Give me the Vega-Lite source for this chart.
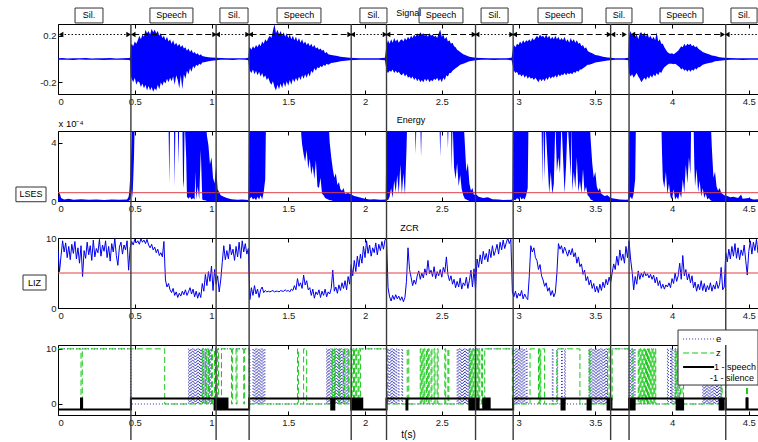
{
"$schema":"https://vega.github.io/schema/vega-lite/v6.json",
"background":"white",
"padding":{"left":14,"top":7,"right":0,"bottom":0},
"spacing":37,
"bounds":"flush",
"config":{
 "font":"Liberation Sans",
 "view":{"stroke":"#000","strokeWidth":1},
 "axis":{"grid":false,"domain":false,"ticks":true,"tickColor":"#000","tickSize":-4,"tickWidth":1,"labelFontSize":9.5,"labelColor":"#1a1a1a","labelFont":"Liberation Sans","labelPadding":6,"titleFont":"Liberation Sans","titleFontSize":9.5,"titleFontWeight":"normal","titleColor":"#000"}
},
"datasets":{
"bounds":[{"t":0.475},{"t":1.03},{"t":1.245},{"t":1.91},{"t":2.14},{"t":2.72},{"t":2.965},{"t":3.6},{"t":3.72},{"t":4.35}],
"seg":[
{"lab":"Sil.","kind":"Sil","a":0.02,"b":0.46,"c":0.202,"bx0":0.111,"bx1":0.293},
{"lab":"Speech","kind":"Speech","a":0.49,"b":1.02,"c":0.739,"bx0":0.599,"bx1":0.879},
{"lab":"Sil.","kind":"Sil","a":1.04,"b":1.235,"c":1.147,"bx0":1.055,"bx1":1.238},
{"lab":"Speech","kind":"Speech","a":1.255,"b":1.9,"c":1.57,"bx0":1.427,"bx1":1.713},
{"lab":"Sil.","kind":"Sil","a":1.92,"b":2.13,"c":2.055,"bx0":1.967,"bx1":2.143},
{"lab":"Speech","kind":"Speech","a":2.15,"b":2.71,"c":2.495,"bx0":2.352,"bx1":2.638},
{"lab":"Sil.","kind":"Sil","a":2.73,"b":2.955,"c":2.844,"bx0":2.756,"bx1":2.932},
{"lab":"Speech","kind":"Speech","a":2.975,"b":3.59,"c":3.27,"bx0":3.127,"bx1":3.414},
{"lab":"Sil.","kind":"Sil","a":3.615,"b":3.69,"c":3.655,"bx0":3.57,"bx1":3.739},
{"lab":"Speech","kind":"Speech","a":3.745,"b":4.33,"c":4.062,"bx0":3.922,"bx1":4.202},
{"lab":"Sil.","kind":"Sil","a":4.36,"b":4.62,"c":4.469,"bx0":4.384,"bx1":4.554}],
"sig":[
{"t":0,"h":0.006,"l":-0.006},{"t":0.03,"h":0.008,"l":-0.007},{"t":0.06,"h":0.005,"l":-0.006},{"t":0.1,"h":0.007,"l":-0.008},{"t":0.14,"h":0.006,"l":-0.005},{"t":0.18,"h":0.008,"l":-0.007},{"t":0.22,"h":0.005,"l":-0.006},{"t":0.26,"h":0.007,"l":-0.006},{"t":0.3,"h":0.006,"l":-0.008},{"t":0.34,"h":0.008,"l":-0.006},{"t":0.38,"h":0.005,"l":-0.007},{"t":0.42,"h":0.007,"l":-0.006},{"t":0.46,"h":0.008,"l":-0.008},{"t":0.47,"h":0.01,"l":-0.012},
{"t":0.475,"h":0.12,"l":-0.15},{"t":0.48,"h":0.13,"l":-0.17},{"t":0.49,"h":0.11,"l":-0.2},{"t":0.5,"h":0.15,"l":-0.16},{"t":0.51,"h":0.13,"l":-0.22},{"t":0.52,"h":0.16,"l":-0.19},{"t":0.53,"h":0.2,"l":-0.2},{"t":0.54,"h":0.17,"l":-0.24},{"t":0.55,"h":0.21,"l":-0.21},{"t":0.56,"h":0.19,"l":-0.25},{"t":0.57,"h":0.25,"l":-0.22},{"t":0.58,"h":0.22,"l":-0.27},{"t":0.59,"h":0.24,"l":-0.23},{"t":0.6,"h":0.21,"l":-0.27},{"t":0.61,"h":0.26,"l":-0.24},{"t":0.62,"h":0.23,"l":-0.28},{"t":0.63,"h":0.25,"l":-0.25},{"t":0.64,"h":0.22,"l":-0.27},{"t":0.65,"h":0.24,"l":-0.22},{"t":0.66,"h":0.2,"l":-0.26},{"t":0.67,"h":0.22,"l":-0.2},{"t":0.68,"h":0.18,"l":-0.23},{"t":0.69,"h":0.2,"l":-0.19},{"t":0.7,"h":0.16,"l":-0.21},{"t":0.71,"h":0.19,"l":-0.17},{"t":0.72,"h":0.15,"l":-0.2},{"t":0.73,"h":0.17,"l":-0.16},{"t":0.74,"h":0.13,"l":-0.19},{"t":0.75,"h":0.16,"l":-0.15},{"t":0.76,"h":0.12,"l":-0.22},{"t":0.77,"h":0.14,"l":-0.14},{"t":0.78,"h":0.11,"l":-0.18},{"t":0.79,"h":0.13,"l":-0.25},{"t":0.8,"h":0.1,"l":-0.14},{"t":0.81,"h":0.12,"l":-0.26},{"t":0.82,"h":0.09,"l":-0.13},{"t":0.83,"h":0.1,"l":-0.17},{"t":0.84,"h":0.07,"l":-0.1},{"t":0.85,"h":0.09,"l":-0.13},{"t":0.86,"h":0.06,"l":-0.08},{"t":0.87,"h":0.08,"l":-0.11},{"t":0.88,"h":0.05,"l":-0.06},{"t":0.89,"h":0.06,"l":-0.08},{"t":0.9,"h":0.04,"l":-0.05},{"t":0.91,"h":0.05,"l":-0.06},{"t":0.92,"h":0.03,"l":-0.04},{"t":0.93,"h":0.04,"l":-0.05},{"t":0.94,"h":0.025,"l":-0.03},{"t":0.96,"h":0.02,"l":-0.025},{"t":0.98,"h":0.015,"l":-0.02},{"t":1,"h":0.012,"l":-0.015},{"t":1.03,"h":0.01,"l":-0.01},
{"t":1.06,"h":0.008,"l":-0.007},{"t":1.1,"h":0.006,"l":-0.006},{"t":1.14,"h":0.007,"l":-0.008},{"t":1.18,"h":0.006,"l":-0.005},{"t":1.22,"h":0.007,"l":-0.007},{"t":1.24,"h":0.01,"l":-0.01},
{"t":1.245,"h":0.09,"l":-0.08},{"t":1.25,"h":0.1,"l":-0.1},{"t":1.26,"h":0.08,"l":-0.12},{"t":1.27,"h":0.11,"l":-0.09},{"t":1.28,"h":0.09,"l":-0.13},{"t":1.29,"h":0.12,"l":-0.1},{"t":1.3,"h":0.1,"l":-0.14},{"t":1.31,"h":0.13,"l":-0.11},{"t":1.32,"h":0.11,"l":-0.15},{"t":1.33,"h":0.15,"l":-0.12},{"t":1.34,"h":0.13,"l":-0.16},{"t":1.35,"h":0.17,"l":-0.14},{"t":1.36,"h":0.15,"l":-0.18},{"t":1.37,"h":0.18,"l":-0.16},{"t":1.38,"h":0.2,"l":-0.2},{"t":1.39,"h":0.18,"l":-0.22},{"t":1.4,"h":0.24,"l":-0.19},{"t":1.41,"h":0.3,"l":-0.24},{"t":1.42,"h":0.22,"l":-0.27},{"t":1.43,"h":0.25,"l":-0.22},{"t":1.44,"h":0.21,"l":-0.26},{"t":1.45,"h":0.24,"l":-0.21},{"t":1.46,"h":0.2,"l":-0.25},{"t":1.47,"h":0.23,"l":-0.2},{"t":1.48,"h":0.19,"l":-0.24},{"t":1.49,"h":0.22,"l":-0.19},{"t":1.5,"h":0.18,"l":-0.23},{"t":1.51,"h":0.21,"l":-0.18},{"t":1.52,"h":0.17,"l":-0.22},{"t":1.53,"h":0.2,"l":-0.17},{"t":1.54,"h":0.16,"l":-0.2},{"t":1.55,"h":0.19,"l":-0.16},{"t":1.56,"h":0.15,"l":-0.19},{"t":1.57,"h":0.18,"l":-0.15},{"t":1.58,"h":0.14,"l":-0.18},{"t":1.59,"h":0.17,"l":-0.14},{"t":1.6,"h":0.13,"l":-0.17},{"t":1.61,"h":0.15,"l":-0.13},{"t":1.62,"h":0.12,"l":-0.16},{"t":1.63,"h":0.14,"l":-0.12},{"t":1.64,"h":0.11,"l":-0.15},{"t":1.65,"h":0.13,"l":-0.1},{"t":1.66,"h":0.1,"l":-0.12},{"t":1.67,"h":0.12,"l":-0.08},{"t":1.68,"h":0.09,"l":-0.1},{"t":1.69,"h":0.1,"l":-0.07},{"t":1.7,"h":0.08,"l":-0.08},{"t":1.71,"h":0.09,"l":-0.06},{"t":1.72,"h":0.07,"l":-0.07},{"t":1.73,"h":0.08,"l":-0.05},{"t":1.74,"h":0.05,"l":-0.06},{"t":1.75,"h":0.06,"l":-0.04},{"t":1.76,"h":0.04,"l":-0.05},{"t":1.78,"h":0.035,"l":-0.035},{"t":1.8,"h":0.03,"l":-0.03},{"t":1.82,"h":0.025,"l":-0.025},{"t":1.84,"h":0.02,"l":-0.02},{"t":1.87,"h":0.015,"l":-0.015},{"t":1.9,"h":0.01,"l":-0.01},
{"t":1.93,"h":0.008,"l":-0.008},{"t":1.97,"h":0.006,"l":-0.007},{"t":2.01,"h":0.007,"l":-0.006},{"t":2.05,"h":0.006,"l":-0.007},{"t":2.09,"h":0.007,"l":-0.006},{"t":2.13,"h":0.01,"l":-0.01},
{"t":2.14,"h":0.12,"l":-0.1},{"t":2.15,"h":0.16,"l":-0.12},{"t":2.16,"h":0.13,"l":-0.1},{"t":2.17,"h":0.17,"l":-0.11},{"t":2.18,"h":0.14,"l":-0.09},{"t":2.19,"h":0.18,"l":-0.12},{"t":2.2,"h":0.15,"l":-0.1},{"t":2.21,"h":0.17,"l":-0.12},{"t":2.22,"h":0.14,"l":-0.11},{"t":2.23,"h":0.16,"l":-0.13},{"t":2.24,"h":0.17,"l":-0.14},{"t":2.25,"h":0.15,"l":-0.12},{"t":2.26,"h":0.18,"l":-0.15},{"t":2.27,"h":0.16,"l":-0.13},{"t":2.28,"h":0.19,"l":-0.16},{"t":2.29,"h":0.17,"l":-0.15},{"t":2.3,"h":0.2,"l":-0.17},{"t":2.31,"h":0.18,"l":-0.15},{"t":2.32,"h":0.21,"l":-0.18},{"t":2.33,"h":0.19,"l":-0.16},{"t":2.34,"h":0.22,"l":-0.19},{"t":2.35,"h":0.2,"l":-0.17},{"t":2.36,"h":0.23,"l":-0.2},{"t":2.37,"h":0.21,"l":-0.18},{"t":2.38,"h":0.22,"l":-0.2},{"t":2.39,"h":0.2,"l":-0.17},{"t":2.4,"h":0.21,"l":-0.19},{"t":2.41,"h":0.19,"l":-0.17},{"t":2.42,"h":0.22,"l":-0.2},{"t":2.43,"h":0.2,"l":-0.18},{"t":2.44,"h":0.21,"l":-0.19},{"t":2.45,"h":0.19,"l":-0.17},{"t":2.46,"h":0.2,"l":-0.18},{"t":2.47,"h":0.18,"l":-0.16},{"t":2.48,"h":0.22,"l":-0.19},{"t":2.49,"h":0.25,"l":-0.17},{"t":2.5,"h":0.19,"l":-0.2},{"t":2.51,"h":0.21,"l":-0.16},{"t":2.52,"h":0.17,"l":-0.18},{"t":2.53,"h":0.19,"l":-0.14},{"t":2.54,"h":0.15,"l":-0.15},{"t":2.55,"h":0.16,"l":-0.12},{"t":2.56,"h":0.13,"l":-0.12},{"t":2.57,"h":0.14,"l":-0.1},{"t":2.58,"h":0.11,"l":-0.09},{"t":2.59,"h":0.1,"l":-0.08},{"t":2.6,"h":0.08,"l":-0.07},{"t":2.61,"h":0.07,"l":-0.06},{"t":2.62,"h":0.06,"l":-0.05},{"t":2.64,"h":0.04,"l":-0.04},{"t":2.66,"h":0.03,"l":-0.03},{"t":2.68,"h":0.02,"l":-0.02},{"t":2.7,"h":0.015,"l":-0.015},{"t":2.72,"h":0.01,"l":-0.01},
{"t":2.76,"h":0.008,"l":-0.007},{"t":2.8,"h":0.006,"l":-0.006},{"t":2.84,"h":0.007,"l":-0.008},{"t":2.88,"h":0.006,"l":-0.006},{"t":2.92,"h":0.007,"l":-0.007},{"t":2.955,"h":0.01,"l":-0.01},
{"t":2.965,"h":0.1,"l":-0.07},{"t":2.97,"h":0.12,"l":-0.1},{"t":2.98,"h":0.1,"l":-0.12},{"t":2.99,"h":0.13,"l":-0.11},{"t":3,"h":0.12,"l":-0.14},{"t":3.01,"h":0.15,"l":-0.13},{"t":3.02,"h":0.13,"l":-0.15},{"t":3.03,"h":0.16,"l":-0.13},{"t":3.04,"h":0.14,"l":-0.16},{"t":3.05,"h":0.16,"l":-0.14},{"t":3.06,"h":0.15,"l":-0.17},{"t":3.07,"h":0.17,"l":-0.15},{"t":3.08,"h":0.15,"l":-0.17},{"t":3.09,"h":0.18,"l":-0.16},{"t":3.1,"h":0.16,"l":-0.18},{"t":3.11,"h":0.18,"l":-0.16},{"t":3.12,"h":0.2,"l":-0.18},{"t":3.13,"h":0.18,"l":-0.2},{"t":3.14,"h":0.21,"l":-0.17},{"t":3.15,"h":0.19,"l":-0.19},{"t":3.16,"h":0.2,"l":-0.17},{"t":3.17,"h":0.18,"l":-0.19},{"t":3.18,"h":0.21,"l":-0.16},{"t":3.19,"h":0.18,"l":-0.18},{"t":3.2,"h":0.2,"l":-0.15},{"t":3.21,"h":0.17,"l":-0.17},{"t":3.22,"h":0.19,"l":-0.15},{"t":3.23,"h":0.17,"l":-0.16},{"t":3.24,"h":0.2,"l":-0.14},{"t":3.25,"h":0.17,"l":-0.16},{"t":3.26,"h":0.19,"l":-0.13},{"t":3.27,"h":0.16,"l":-0.15},{"t":3.28,"h":0.18,"l":-0.13},{"t":3.29,"h":0.16,"l":-0.14},{"t":3.3,"h":0.19,"l":-0.12},{"t":3.31,"h":0.15,"l":-0.14},{"t":3.32,"h":0.17,"l":-0.12},{"t":3.33,"h":0.14,"l":-0.13},{"t":3.34,"h":0.18,"l":-0.12},{"t":3.35,"h":0.15,"l":-0.13},{"t":3.36,"h":0.17,"l":-0.11},{"t":3.37,"h":0.14,"l":-0.12},{"t":3.38,"h":0.16,"l":-0.1},{"t":3.39,"h":0.13,"l":-0.11},{"t":3.4,"h":0.14,"l":-0.09},{"t":3.41,"h":0.11,"l":-0.09},{"t":3.42,"h":0.12,"l":-0.08},{"t":3.43,"h":0.09,"l":-0.07},{"t":3.44,"h":0.1,"l":-0.06},{"t":3.45,"h":0.07,"l":-0.05},{"t":3.46,"h":0.06,"l":-0.05},{"t":3.48,"h":0.05,"l":-0.04},{"t":3.5,"h":0.035,"l":-0.03},{"t":3.52,"h":0.03,"l":-0.025},{"t":3.55,"h":0.02,"l":-0.02},{"t":3.58,"h":0.012,"l":-0.012},{"t":3.6,"h":0.01,"l":-0.01},
{"t":3.63,"h":0.007,"l":-0.007},{"t":3.66,"h":0.006,"l":-0.006},{"t":3.69,"h":0.007,"l":-0.006},{"t":3.715,"h":0.01,"l":-0.01},
{"t":3.72,"h":0.2,"l":-0.12},{"t":3.73,"h":0.24,"l":-0.15},{"t":3.74,"h":0.2,"l":-0.13},{"t":3.75,"h":0.23,"l":-0.16},{"t":3.76,"h":0.19,"l":-0.14},{"t":3.77,"h":0.21,"l":-0.12},{"t":3.78,"h":0.17,"l":-0.15},{"t":3.79,"h":0.22,"l":-0.17},{"t":3.8,"h":0.23,"l":-0.2},{"t":3.81,"h":0.2,"l":-0.18},{"t":3.82,"h":0.23,"l":-0.16},{"t":3.83,"h":0.19,"l":-0.18},{"t":3.84,"h":0.22,"l":-0.15},{"t":3.85,"h":0.18,"l":-0.17},{"t":3.86,"h":0.2,"l":-0.14},{"t":3.87,"h":0.17,"l":-0.16},{"t":3.88,"h":0.19,"l":-0.13},{"t":3.89,"h":0.16,"l":-0.15},{"t":3.9,"h":0.23,"l":-0.12},{"t":3.91,"h":0.15,"l":-0.14},{"t":3.92,"h":0.17,"l":-0.11},{"t":3.93,"h":0.13,"l":-0.12},{"t":3.94,"h":0.13,"l":-0.09},{"t":3.95,"h":0.1,"l":-0.07},{"t":3.96,"h":0.08,"l":-0.06},{"t":3.97,"h":0.06,"l":-0.05},{"t":3.98,"h":0.05,"l":-0.04},{"t":3.99,"h":0.045,"l":-0.04},{"t":4,"h":0.05,"l":-0.04},{"t":4.01,"h":0.04,"l":-0.045},{"t":4.02,"h":0.05,"l":-0.04},{"t":4.03,"h":0.06,"l":-0.05},{"t":4.04,"h":0.07,"l":-0.06},{"t":4.05,"h":0.09,"l":-0.07},{"t":4.06,"h":0.11,"l":-0.09},{"t":4.07,"h":0.1,"l":-0.08},{"t":4.08,"h":0.13,"l":-0.1},{"t":4.09,"h":0.11,"l":-0.09},{"t":4.1,"h":0.13,"l":-0.11},{"t":4.11,"h":0.12,"l":-0.09},{"t":4.12,"h":0.13,"l":-0.11},{"t":4.13,"h":0.11,"l":-0.09},{"t":4.14,"h":0.12,"l":-0.1},{"t":4.15,"h":0.1,"l":-0.08},{"t":4.16,"h":0.11,"l":-0.09},{"t":4.17,"h":0.09,"l":-0.07},{"t":4.18,"h":0.08,"l":-0.07},{"t":4.19,"h":0.07,"l":-0.06},{"t":4.2,"h":0.06,"l":-0.05},{"t":4.22,"h":0.05,"l":-0.04},{"t":4.24,"h":0.04,"l":-0.035},{"t":4.26,"h":0.03,"l":-0.03},{"t":4.28,"h":0.025,"l":-0.02},{"t":4.31,"h":0.015,"l":-0.015},{"t":4.34,"h":0.01,"l":-0.01},
{"t":4.38,"h":0.008,"l":-0.007},{"t":4.42,"h":0.006,"l":-0.006},{"t":4.46,"h":0.007,"l":-0.008},{"t":4.5,"h":0.006,"l":-0.006},{"t":4.54,"h":0.007,"l":-0.006},{"t":4.58,"h":0.006,"l":-0.006}],
"energy":[
{"t":0,"l":0,"h":0.15},{"t":0.01,"l":0,"h":0.6},{"t":0.02,"l":0,"h":0.2},{"t":0.04,"l":0,"h":0.1},{"t":0.07,"l":0,"h":0.15},{"t":0.1,"l":0,"h":0.08},{"t":0.15,"l":0,"h":0.12},{"t":0.2,"l":0,"h":0.08},{"t":0.25,"l":0,"h":0.1},{"t":0.3,"l":0,"h":0.07},{"t":0.35,"l":0,"h":0.1},{"t":0.4,"l":0,"h":0.08},{"t":0.45,"l":0,"h":0.1},{"t":0.46,"l":0,"h":0.3},{"t":0.465,"l":0.05,"h":0.7},{"t":0.47,"l":0.1,"h":1.6},{"t":0.475,"l":0.3,"h":2.8},{"t":0.48,"l":0.8,"h":4.2},{"t":0.485,"l":0.2,"h":6},{"t":0.49,"l":1.5,"h":6},{"t":0.495,"l":3,"h":6},{"t":0.5,"l":5.5,"h":6},{"t":0.72,"l":5.5,"h":6},{"t":0.725,"l":1.2,"h":6},{"t":0.73,"l":5.5,"h":6},{"t":0.755,"l":5.5,"h":6},{"t":0.76,"l":1,"h":6},{"t":0.765,"l":5.5,"h":6},{"t":0.78,"l":5.5,"h":6},{"t":0.785,"l":2.5,"h":6},{"t":0.79,"l":5.5,"h":6},{"t":0.81,"l":5.5,"h":6},{"t":0.815,"l":0.9,"h":6},{"t":0.82,"l":1.4,"h":6},{"t":0.825,"l":5.5,"h":6},{"t":0.835,"l":3,"h":6},{"t":0.84,"l":0.3,"h":6},{"t":0.85,"l":0.15,"h":6},{"t":0.86,"l":0.3,"h":6},{"t":0.87,"l":0.1,"h":6},{"t":0.88,"l":0.2,"h":6},{"t":0.89,"l":0.1,"h":6},{"t":0.895,"l":2,"h":6},{"t":0.9,"l":0.1,"h":6},{"t":0.91,"l":1,"h":6},{"t":0.92,"l":0.1,"h":6},{"t":0.93,"l":3.5,"h":6},{"t":0.94,"l":0.1,"h":6},{"t":0.95,"l":0.05,"h":6},{"t":0.96,"l":0.05,"h":6},{"t":0.97,"l":0,"h":4.5},{"t":0.98,"l":0,"h":3.8},{"t":0.99,"l":0,"h":2.5},{"t":1,"l":0,"h":3},{"t":1.01,"l":0,"h":1.6},{"t":1.02,"l":0,"h":1.2},{"t":1.03,"l":0,"h":2.4},{"t":1.04,"l":0,"h":0.8},{"t":1.05,"l":0,"h":0.6},{"t":1.06,"l":0,"h":0.4},{"t":1.08,"l":0,"h":0.3},{"t":1.1,"l":0,"h":0.2},{"t":1.13,"l":0,"h":0.12},{"t":1.17,"l":0,"h":0.08},{"t":1.2,"l":0,"h":0.1},{"t":1.24,"l":0,"h":0.07},
{"t":1.245,"l":0.1,"h":6},{"t":1.26,"l":0.3,"h":6},{"t":1.27,"l":0.1,"h":6},{"t":1.28,"l":0.2,"h":6},{"t":1.29,"l":0.05,"h":6},{"t":1.3,"l":0.3,"h":6},{"t":1.31,"l":0.1,"h":6},{"t":1.32,"l":0.4,"h":6},{"t":1.33,"l":0.1,"h":6},{"t":1.34,"l":0.6,"h":6},{"t":1.35,"l":1.5,"h":6},{"t":1.355,"l":5.5,"h":6},{"t":1.58,"l":5.5,"h":6},{"t":1.585,"l":4.5,"h":6},{"t":1.59,"l":3.9,"h":6},{"t":1.6,"l":3.2,"h":6},{"t":1.61,"l":2.7,"h":6},{"t":1.62,"l":3.5,"h":6},{"t":1.63,"l":2.2,"h":6},{"t":1.64,"l":2.9,"h":6},{"t":1.65,"l":1.8,"h":6},{"t":1.66,"l":2.4,"h":6},{"t":1.67,"l":1.5,"h":6},{"t":1.68,"l":2.8,"h":6},{"t":1.69,"l":1,"h":6},{"t":1.7,"l":0.9,"h":6},{"t":1.71,"l":1.6,"h":6},{"t":1.72,"l":0.5,"h":6},{"t":1.73,"l":0.4,"h":6},{"t":1.74,"l":0.2,"h":6},{"t":1.75,"l":0.15,"h":6},{"t":1.76,"l":0.1,"h":6},{"t":1.77,"l":0.05,"h":4},{"t":1.78,"l":0.05,"h":3},{"t":1.79,"l":0,"h":2.2},{"t":1.8,"l":0,"h":1.6},{"t":1.81,"l":0,"h":1.9},{"t":1.82,"l":0,"h":1.1},{"t":1.83,"l":0,"h":1.3},{"t":1.84,"l":0,"h":0.8},{"t":1.85,"l":0,"h":0.7},{"t":1.86,"l":0,"h":0.9},{"t":1.87,"l":0,"h":0.5},{"t":1.89,"l":0,"h":0.55},{"t":1.91,"l":0,"h":0.45},{"t":1.93,"l":0,"h":0.35},{"t":1.95,"l":0,"h":0.3},{"t":1.98,"l":0,"h":0.2},{"t":2,"l":0,"h":0.15},{"t":2.03,"l":0,"h":0.1},{"t":2.06,"l":0,"h":0.12},{"t":2.1,"l":0,"h":0.08},{"t":2.135,"l":0,"h":0.1},
{"t":2.14,"l":0.1,"h":6},{"t":2.15,"l":0.05,"h":6},{"t":2.16,"l":0.3,"h":6},{"t":2.17,"l":0.9,"h":6},{"t":2.18,"l":0.2,"h":6},{"t":2.19,"l":1.4,"h":6},{"t":2.2,"l":0.6,"h":6},{"t":2.21,"l":1.8,"h":6},{"t":2.22,"l":0.5,"h":6},{"t":2.23,"l":2.5,"h":6},{"t":2.24,"l":0.45,"h":6},{"t":2.25,"l":1.9,"h":6},{"t":2.26,"l":0.4,"h":6},{"t":2.27,"l":3.5,"h":6},{"t":2.275,"l":5.5,"h":6},{"t":2.325,"l":5.5,"h":6},{"t":2.33,"l":3.2,"h":6},{"t":2.335,"l":5.5,"h":6},{"t":2.36,"l":5.5,"h":6},{"t":2.365,"l":3,"h":6},{"t":2.37,"l":5.5,"h":6},{"t":2.485,"l":5.5,"h":6},{"t":2.49,"l":3,"h":6},{"t":2.495,"l":5.5,"h":6},{"t":2.535,"l":5.5,"h":6},{"t":2.54,"l":3.6,"h":6},{"t":2.545,"l":5.5,"h":6},{"t":2.56,"l":5.5,"h":6},{"t":2.565,"l":2.1,"h":6},{"t":2.57,"l":5.5,"h":6},{"t":2.575,"l":4,"h":6},{"t":2.58,"l":2.3,"h":6},{"t":2.59,"l":1.5,"h":6},{"t":2.6,"l":2.6,"h":6},{"t":2.61,"l":1,"h":6},{"t":2.62,"l":1.8,"h":6},{"t":2.63,"l":0.8,"h":6},{"t":2.64,"l":0.4,"h":6},{"t":2.65,"l":0.15,"h":4},{"t":2.66,"l":0.1,"h":2},{"t":2.67,"l":0.05,"h":2.6},{"t":2.68,"l":0,"h":1.2},{"t":2.69,"l":0,"h":0.7},{"t":2.7,"l":0,"h":0.9},{"t":2.71,"l":0,"h":0.4},{"t":2.72,"l":0,"h":0.5},{"t":2.74,"l":0,"h":0.3},{"t":2.77,"l":0,"h":0.2},{"t":2.8,"l":0,"h":0.25},{"t":2.83,"l":0,"h":0.12},{"t":2.87,"l":0,"h":0.1},{"t":2.9,"l":0,"h":0.07},{"t":2.95,"l":0,"h":0.08},{"t":2.96,"l":0,"h":0.1},
{"t":2.965,"l":0.1,"h":6},{"t":2.98,"l":0.05,"h":6},{"t":2.99,"l":0.2,"h":6},{"t":3,"l":0.1,"h":6},{"t":3.01,"l":0.3,"h":6},{"t":3.02,"l":0.1,"h":6},{"t":3.03,"l":0.2,"h":6},{"t":3.04,"l":0.1,"h":6},{"t":3.05,"l":0.4,"h":6},{"t":3.06,"l":0.9,"h":6},{"t":3.065,"l":5.5,"h":6},{"t":3.15,"l":5.5,"h":6},{"t":3.155,"l":1.1,"h":6},{"t":3.16,"l":5.5,"h":6},{"t":3.17,"l":1.5,"h":6},{"t":3.175,"l":5.5,"h":6},{"t":3.2,"l":0.5,"h":6},{"t":3.21,"l":2,"h":6},{"t":3.22,"l":0.45,"h":6},{"t":3.23,"l":1.2,"h":6},{"t":3.24,"l":5.5,"h":6},{"t":3.25,"l":2,"h":6},{"t":3.26,"l":3,"h":6},{"t":3.27,"l":1.9,"h":6},{"t":3.28,"l":5.5,"h":6},{"t":3.3,"l":0.5,"h":6},{"t":3.31,"l":2.5,"h":6},{"t":3.32,"l":5.5,"h":6},{"t":3.34,"l":1.6,"h":6},{"t":3.345,"l":5.5,"h":6},{"t":3.35,"l":0.7,"h":6},{"t":3.36,"l":2,"h":6},{"t":3.37,"l":0.9,"h":6},{"t":3.38,"l":3,"h":6},{"t":3.39,"l":0.6,"h":6},{"t":3.4,"l":1.4,"h":6},{"t":3.41,"l":0.5,"h":6},{"t":3.42,"l":2.2,"h":6},{"t":3.43,"l":0.6,"h":6},{"t":3.44,"l":1,"h":6},{"t":3.45,"l":0.4,"h":6},{"t":3.46,"l":0.3,"h":6},{"t":3.47,"l":0.1,"h":4.2},{"t":3.48,"l":0.05,"h":2.6},{"t":3.49,"l":0,"h":1.6},{"t":3.5,"l":0,"h":2},{"t":3.51,"l":0,"h":1},{"t":3.52,"l":0,"h":0.7},{"t":3.53,"l":0,"h":0.9},{"t":3.54,"l":0,"h":0.5},{"t":3.56,"l":0,"h":0.35},{"t":3.58,"l":0,"h":0.4},{"t":3.6,"l":0,"h":0.2},{"t":3.63,"l":0,"h":0.15},{"t":3.66,"l":0,"h":0.1},{"t":3.7,"l":0,"h":0.08},{"t":3.715,"l":0,"h":0.1},
{"t":3.72,"l":0.1,"h":6},{"t":3.73,"l":0.3,"h":6},{"t":3.74,"l":0.1,"h":6},{"t":3.75,"l":0.5,"h":6},{"t":3.76,"l":1.5,"h":6},{"t":3.765,"l":5.5,"h":6},{"t":3.93,"l":5.5,"h":6},{"t":3.935,"l":3.2,"h":6},{"t":3.94,"l":1.5,"h":6},{"t":3.95,"l":0.9,"h":6},{"t":3.96,"l":2,"h":6},{"t":3.97,"l":0.45,"h":6},{"t":3.98,"l":1.2,"h":6},{"t":3.99,"l":0.3,"h":6},{"t":4,"l":0.1,"h":6},{"t":4.01,"l":0.8,"h":6},{"t":4.02,"l":0.1,"h":6},{"t":4.03,"l":0.3,"h":6},{"t":4.04,"l":0.1,"h":6},{"t":4.05,"l":0.6,"h":6},{"t":4.06,"l":0.2,"h":6},{"t":4.07,"l":1.5,"h":6},{"t":4.08,"l":0.55,"h":6},{"t":4.09,"l":2.5,"h":6},{"t":4.1,"l":1.2,"h":6},{"t":4.11,"l":3,"h":6},{"t":4.12,"l":1.8,"h":6},{"t":4.125,"l":5.5,"h":6},{"t":4.14,"l":5.5,"h":6},{"t":4.145,"l":2.5,"h":6},{"t":4.15,"l":1,"h":6},{"t":4.16,"l":2.2,"h":6},{"t":4.17,"l":0.6,"h":6},{"t":4.18,"l":1.4,"h":6},{"t":4.19,"l":0.3,"h":6},{"t":4.2,"l":0.9,"h":6},{"t":4.21,"l":0.2,"h":6},{"t":4.22,"l":0.5,"h":6},{"t":4.23,"l":0.1,"h":6},{"t":4.24,"l":0.2,"h":6},{"t":4.25,"l":0.05,"h":6},{"t":4.26,"l":0,"h":3.5},{"t":4.27,"l":0,"h":1.6},{"t":4.28,"l":0,"h":2},{"t":4.29,"l":0,"h":1},{"t":4.3,"l":0,"h":0.7},{"t":4.31,"l":0,"h":0.9},{"t":4.32,"l":0,"h":0.57},{"t":4.34,"l":0,"h":0.4},{"t":4.36,"l":0,"h":0.35},{"t":4.38,"l":0,"h":0.25},{"t":4.4,"l":0,"h":0.3},{"t":4.43,"l":0,"h":0.2},{"t":4.45,"l":0,"h":0.45},{"t":4.46,"l":0,"h":0.15},{"t":4.5,"l":0,"h":0.2},{"t":4.53,"l":0,"h":0.1},{"t":4.57,"l":0,"h":0.12}],
"zcr":[
{"t":0,"v":8.2},{"t":0.01,"v":5.2},{"t":0.02,"v":7.5},{"t":0.03,"v":9.6},{"t":0.04,"v":8},{"t":0.05,"v":9.3},{"t":0.06,"v":7.2},{"t":0.07,"v":8.8},{"t":0.08,"v":6.9},{"t":0.09,"v":9.1},{"t":0.1,"v":7.8},{"t":0.11,"v":9.5},{"t":0.12,"v":7},{"t":0.13,"v":8.6},{"t":0.14,"v":6.4},{"t":0.15,"v":8.9},{"t":0.16,"v":4.5},{"t":0.17,"v":8.2},{"t":0.18,"v":7.1},{"t":0.19,"v":9.4},{"t":0.2,"v":7.6},{"t":0.21,"v":8.9},{"t":0.22,"v":6.8},{"t":0.23,"v":9.7},{"t":0.24,"v":7.3},{"t":0.25,"v":8.5},{"t":0.26,"v":7.9},{"t":0.27,"v":9.8},{"t":0.28,"v":7.4},{"t":0.29,"v":9},{"t":0.3,"v":8.1},{"t":0.31,"v":9.6},{"t":0.32,"v":7.2},{"t":0.33,"v":8.8},{"t":0.34,"v":6.7},{"t":0.35,"v":9.2},{"t":0.36,"v":8},{"t":0.37,"v":9.9},{"t":0.38,"v":7.5},{"t":0.39,"v":6.1},{"t":0.4,"v":8.7},{"t":0.41,"v":9.4},{"t":0.42,"v":7.7},{"t":0.43,"v":9},{"t":0.44,"v":8.3},{"t":0.45,"v":9.6},{"t":0.46,"v":5.4},{"t":0.47,"v":8.6},{"t":0.48,"v":9.5},{"t":0.49,"v":9},{"t":0.5,"v":9.8},{"t":0.51,"v":9.3},{"t":0.52,"v":9.6},{"t":0.53,"v":9.1},{"t":0.54,"v":9.9},{"t":0.55,"v":9.4},{"t":0.56,"v":9.7},{"t":0.57,"v":9.2},{"t":0.58,"v":9.8},{"t":0.59,"v":9},{"t":0.6,"v":8.6},{"t":0.61,"v":9.1},{"t":0.62,"v":8.3},{"t":0.63,"v":8.7},{"t":0.64,"v":7.9},{"t":0.65,"v":8.4},{"t":0.66,"v":7.5},{"t":0.67,"v":7.9},{"t":0.68,"v":7.3},{"t":0.69,"v":9.5},{"t":0.7,"v":4},{"t":0.71,"v":3},{"t":0.72,"v":3.5},{"t":0.73,"v":2.6},{"t":0.74,"v":2.2},{"t":0.75,"v":2.8},{"t":0.76,"v":1.8},{"t":0.77,"v":2.3},{"t":0.78,"v":1.5},{"t":0.79,"v":2.1},{"t":0.8,"v":1.7},{"t":0.81,"v":2.4},{"t":0.82,"v":1.9},{"t":0.83,"v":2.6},{"t":0.84,"v":1.8},{"t":0.85,"v":2.3},{"t":0.86,"v":2.9},{"t":0.87,"v":2},{"t":0.88,"v":2.7},{"t":0.89,"v":1.6},{"t":0.9,"v":2.4},{"t":0.91,"v":1.4},{"t":0.92,"v":2.2},{"t":0.93,"v":1.5},{"t":0.94,"v":3.5},{"t":0.95,"v":2.4},{"t":0.96,"v":4.8},{"t":0.97,"v":3.2},{"t":0.98,"v":5.2},{"t":0.99,"v":3.8},{"t":1,"v":6},{"t":1.01,"v":2.5},{"t":1.02,"v":5.5},{"t":1.03,"v":3.4},{"t":1.04,"v":4.6},{"t":1.05,"v":2.3},{"t":1.06,"v":4},{"t":1.07,"v":6.5},{"t":1.08,"v":8.9},{"t":1.09,"v":6.9},{"t":1.1,"v":8.2},{"t":1.11,"v":7},{"t":1.12,"v":9.1},{"t":1.13,"v":7.6},{"t":1.14,"v":8.4},{"t":1.15,"v":6.8},{"t":1.16,"v":8.8},{"t":1.17,"v":7.3},{"t":1.18,"v":9.4},{"t":1.19,"v":7.1},{"t":1.2,"v":9.6},{"t":1.21,"v":8},{"t":1.22,"v":9.2},{"t":1.23,"v":7.7},{"t":1.24,"v":8.5},{"t":1.25,"v":1.2},{"t":1.26,"v":2.9},{"t":1.27,"v":1.8},{"t":1.28,"v":3.2},{"t":1.29,"v":2},{"t":1.3,"v":2.7},{"t":1.31,"v":1.5},{"t":1.32,"v":2.6},{"t":1.33,"v":3},{"t":1.34,"v":2.2},{"t":1.35,"v":2.5},{"t":1.36,"v":2.3},{"t":1.37,"v":2.4},{"t":1.38,"v":2.3},{"t":1.39,"v":2.4},{"t":1.4,"v":2.5},{"t":1.41,"v":2.3},{"t":1.42,"v":2.4},{"t":1.43,"v":2.4},{"t":1.44,"v":2.3},{"t":1.45,"v":2.5},{"t":1.46,"v":2.4},{"t":1.47,"v":2.4},{"t":1.48,"v":2.6},{"t":1.49,"v":2.4},{"t":1.5,"v":2.5},{"t":1.51,"v":2.3},{"t":1.52,"v":2.7},{"t":1.53,"v":2.5},{"t":1.54,"v":3.2},{"t":1.55,"v":2.6},{"t":1.56,"v":4.2},{"t":1.57,"v":3.1},{"t":1.58,"v":3.6},{"t":1.59,"v":2.8},{"t":1.6,"v":4.7},{"t":1.61,"v":3.3},{"t":1.62,"v":3.9},{"t":1.63,"v":2.6},{"t":1.64,"v":2.9},{"t":1.65,"v":1.8},{"t":1.66,"v":2.7},{"t":1.67,"v":1.4},{"t":1.68,"v":2.3},{"t":1.69,"v":1.9},{"t":1.7,"v":2.6},{"t":1.71,"v":1.5},{"t":1.72,"v":2.4},{"t":1.73,"v":1.8},{"t":1.74,"v":2.7},{"t":1.75,"v":1.6},{"t":1.76,"v":2.3},{"t":1.77,"v":2},{"t":1.78,"v":2.8},{"t":1.79,"v":5.4},{"t":1.8,"v":2.4},{"t":1.81,"v":3},{"t":1.82,"v":2.1},{"t":1.83,"v":3.3},{"t":1.84,"v":2.5},{"t":1.85,"v":3.6},{"t":1.86,"v":2.8},{"t":1.87,"v":3.9},{"t":1.88,"v":2.6},{"t":1.89,"v":4.5},{"t":1.9,"v":3.4},{"t":1.91,"v":6.2},{"t":1.92,"v":4.6},{"t":1.93,"v":6.8},{"t":1.94,"v":5.2},{"t":1.95,"v":7.4},{"t":1.96,"v":5.9},{"t":1.97,"v":7.7},{"t":1.98,"v":6.4},{"t":1.99,"v":8.8},{"t":2,"v":7.2},{"t":2.01,"v":9.6},{"t":2.02,"v":7.8},{"t":2.03,"v":9},{"t":2.04,"v":7.4},{"t":2.05,"v":8.6},{"t":2.06,"v":7.9},{"t":2.07,"v":9.3},{"t":2.08,"v":7.6},{"t":2.09,"v":9.1},{"t":2.1,"v":8.2},{"t":2.11,"v":9.5},{"t":2.12,"v":8.4},{"t":2.13,"v":9.7},{"t":2.14,"v":10},{"t":2.15,"v":2.9},{"t":2.16,"v":1.6},{"t":2.17,"v":1},{"t":2.18,"v":1.8},{"t":2.19,"v":1.2},{"t":2.2,"v":1.9},{"t":2.21,"v":1.3},{"t":2.22,"v":1.7},{"t":2.23,"v":1.1},{"t":2.24,"v":1.6},{"t":2.25,"v":0.9},{"t":2.26,"v":1.5},{"t":2.27,"v":3.8},{"t":2.28,"v":8.6},{"t":2.29,"v":5.5},{"t":2.3,"v":4.4},{"t":2.31,"v":3.2},{"t":2.32,"v":4},{"t":2.33,"v":3.4},{"t":2.34,"v":4.6},{"t":2.35,"v":5.3},{"t":2.36,"v":4.1},{"t":2.37,"v":5},{"t":2.38,"v":4.3},{"t":2.39,"v":5.6},{"t":2.4,"v":4.7},{"t":2.41,"v":6.8},{"t":2.42,"v":4.9},{"t":2.43,"v":5.4},{"t":2.44,"v":4.5},{"t":2.45,"v":5.9},{"t":2.46,"v":4.2},{"t":2.47,"v":5.2},{"t":2.48,"v":4.6},{"t":2.49,"v":5.5},{"t":2.5,"v":4.4},{"t":2.51,"v":5.8},{"t":2.52,"v":5.1},{"t":2.53,"v":7.3},{"t":2.54,"v":4.8},{"t":2.55,"v":3.9},{"t":2.56,"v":4.6},{"t":2.57,"v":3.4},{"t":2.58,"v":4.1},{"t":2.59,"v":2.9},{"t":2.6,"v":3.8},{"t":2.61,"v":3},{"t":2.62,"v":4.3},{"t":2.63,"v":2.7},{"t":2.64,"v":3.6},{"t":2.65,"v":3.2},{"t":2.66,"v":4.4},{"t":2.67,"v":2.8},{"t":2.68,"v":3.9},{"t":2.69,"v":5.4},{"t":2.7,"v":3},{"t":2.71,"v":5.6},{"t":2.72,"v":2.6},{"t":2.73,"v":7},{"t":2.74,"v":5.8},{"t":2.75,"v":7.6},{"t":2.76,"v":6.3},{"t":2.77,"v":8.1},{"t":2.78,"v":6.9},{"t":2.79,"v":7.8},{"t":2.8,"v":6.6},{"t":2.81,"v":8.4},{"t":2.82,"v":7.2},{"t":2.83,"v":8.9},{"t":2.84,"v":7.5},{"t":2.85,"v":8.2},{"t":2.86,"v":9.1},{"t":2.87,"v":7.7},{"t":2.88,"v":9.4},{"t":2.89,"v":8.3},{"t":2.9,"v":9.7},{"t":2.91,"v":8.5},{"t":2.92,"v":9.3},{"t":2.93,"v":10},{"t":2.94,"v":9.2},{"t":2.95,"v":9.8},{"t":2.96,"v":2.3},{"t":2.97,"v":1.6},{"t":2.98,"v":2.4},{"t":2.99,"v":1.4},{"t":3,"v":2.1},{"t":3.01,"v":1.7},{"t":3.02,"v":2.5},{"t":3.03,"v":1.3},{"t":3.04,"v":2},{"t":3.05,"v":1.5},{"t":3.06,"v":1.2},{"t":3.07,"v":4.5},{"t":3.08,"v":8.9},{"t":3.09,"v":8},{"t":3.1,"v":8.6},{"t":3.11,"v":7.2},{"t":3.12,"v":6.8},{"t":3.13,"v":5.5},{"t":3.14,"v":6.2},{"t":3.15,"v":4.6},{"t":3.16,"v":4},{"t":3.17,"v":3.1},{"t":3.18,"v":3.6},{"t":3.19,"v":2.4},{"t":3.2,"v":2.9},{"t":3.21,"v":1.8},{"t":3.22,"v":2.5},{"t":3.23,"v":1.6},{"t":3.24,"v":2.2},{"t":3.25,"v":5},{"t":3.26,"v":9.2},{"t":3.27,"v":8.4},{"t":3.28,"v":8.9},{"t":3.29,"v":7.8},{"t":3.3,"v":8.7},{"t":3.31,"v":8.1},{"t":3.32,"v":7.4},{"t":3.33,"v":8.3},{"t":3.34,"v":7.6},{"t":3.35,"v":8.5},{"t":3.36,"v":7.3},{"t":3.37,"v":7.9},{"t":3.38,"v":6.4},{"t":3.39,"v":7.3},{"t":3.4,"v":5.9},{"t":3.41,"v":6.3},{"t":3.42,"v":4.8},{"t":3.43,"v":5.4},{"t":3.44,"v":3.9},{"t":3.45,"v":4.5},{"t":3.46,"v":3.3},{"t":3.47,"v":4},{"t":3.48,"v":2.8},{"t":3.49,"v":3.5},{"t":3.5,"v":2.3},{"t":3.51,"v":3.1},{"t":3.52,"v":2.2},{"t":3.53,"v":3.4},{"t":3.54,"v":2.5},{"t":3.55,"v":3.7},{"t":3.56,"v":2.9},{"t":3.57,"v":4.1},{"t":3.58,"v":3.3},{"t":3.59,"v":4.4},{"t":3.6,"v":3.6},{"t":3.61,"v":5},{"t":3.62,"v":6.3},{"t":3.63,"v":5.5},{"t":3.64,"v":7.4},{"t":3.65,"v":6.1},{"t":3.66,"v":8.3},{"t":3.67,"v":6.8},{"t":3.68,"v":7.7},{"t":3.69,"v":6.4},{"t":3.7,"v":8.8},{"t":3.71,"v":7.2},{"t":3.72,"v":9.6},{"t":3.73,"v":7},{"t":3.74,"v":5.2},{"t":3.75,"v":2.6},{"t":3.76,"v":4.5},{"t":3.77,"v":3.4},{"t":3.78,"v":5.3},{"t":3.79,"v":4.1},{"t":3.8,"v":5},{"t":3.81,"v":4.4},{"t":3.82,"v":5.2},{"t":3.83,"v":4.6},{"t":3.84,"v":4.9},{"t":3.85,"v":4.3},{"t":3.86,"v":4.8},{"t":3.87,"v":4.1},{"t":3.88,"v":4.7},{"t":3.89,"v":3.6},{"t":3.9,"v":4.4},{"t":3.91,"v":3.2},{"t":3.92,"v":3.9},{"t":3.93,"v":2.8},{"t":3.94,"v":3.4},{"t":3.95,"v":2.7},{"t":3.96,"v":3.3},{"t":3.97,"v":3},{"t":3.98,"v":3.6},{"t":3.99,"v":2.9},{"t":4,"v":4.2},{"t":4.01,"v":3.5},{"t":4.02,"v":5},{"t":4.03,"v":3.8},{"t":4.04,"v":4.6},{"t":4.05,"v":6.4},{"t":4.06,"v":4.1},{"t":4.07,"v":7.5},{"t":4.08,"v":4.6},{"t":4.09,"v":5.5},{"t":4.1,"v":4},{"t":4.11,"v":4.9},{"t":4.12,"v":3.6},{"t":4.13,"v":4.6},{"t":4.14,"v":2.9},{"t":4.15,"v":3.7},{"t":4.16,"v":2.4},{"t":4.17,"v":3.4},{"t":4.18,"v":2.6},{"t":4.19,"v":3.9},{"t":4.2,"v":2.5},{"t":4.21,"v":3.5},{"t":4.22,"v":2.3},{"t":4.23,"v":3.2},{"t":4.24,"v":2.6},{"t":4.25,"v":3.6},{"t":4.26,"v":2.4},{"t":4.27,"v":3.3},{"t":4.28,"v":2.7},{"t":4.29,"v":3.8},{"t":4.3,"v":2.8},{"t":4.31,"v":3.4},{"t":4.32,"v":5.8},{"t":4.33,"v":2.6},{"t":4.34,"v":3},{"t":4.35,"v":7.9},{"t":4.36,"v":6.6},{"t":4.37,"v":8.4},{"t":4.38,"v":7},{"t":4.39,"v":8.8},{"t":4.4,"v":7.4},{"t":4.41,"v":9.2},{"t":4.42,"v":7.1},{"t":4.43,"v":8.6},{"t":4.44,"v":6.9},{"t":4.45,"v":8.3},{"t":4.46,"v":7.5},{"t":4.47,"v":9},{"t":4.48,"v":6.8},{"t":4.49,"v":4.7},{"t":4.5,"v":8.1},{"t":4.51,"v":9.6},{"t":4.52,"v":7.7},{"t":4.53,"v":9.4},{"t":4.54,"v":8.2},{"t":4.55,"v":9.8},{"t":4.56,"v":7.9},{"t":4.57,"v":9.1}],
"e":[
{"t":0,"v":10},{"t":0.475,"v":0},{"t":0.85,"v":10},{"t":0.856,"v":0},{"t":0.862,"v":10},{"t":0.868,"v":0},{"t":0.874,"v":10},{"t":0.88,"v":0},{"t":0.886,"v":10},{"t":0.892,"v":0},{"t":0.898,"v":10},{"t":0.904,"v":0},{"t":0.91,"v":10},{"t":0.916,"v":0},{"t":0.922,"v":10},{"t":0.928,"v":0},{"t":0.934,"v":10},{"t":0.94,"v":0},{"t":0.946,"v":10},{"t":0.952,"v":0},{"t":0.958,"v":10},{"t":0.964,"v":0},{"t":0.97,"v":10},{"t":0.976,"v":0},{"t":0.982,"v":10},{"t":0.988,"v":0},{"t":0.994,"v":10},{"t":1.25,"v":0},{"t":1.27,"v":10},{"t":1.276,"v":0},{"t":1.282,"v":10},{"t":1.288,"v":0},{"t":1.294,"v":10},{"t":1.3,"v":0},{"t":1.306,"v":10},{"t":1.312,"v":0},{"t":1.318,"v":10},{"t":1.324,"v":0},{"t":1.33,"v":10},{"t":1.336,"v":0},{"t":1.342,"v":10},{"t":1.348,"v":0},{"t":1.75,"v":10},{"t":1.756,"v":0},{"t":1.762,"v":10},{"t":1.768,"v":0},{"t":1.774,"v":10},{"t":1.78,"v":0},{"t":1.786,"v":10},{"t":1.792,"v":0},{"t":1.798,"v":10},{"t":1.804,"v":0},{"t":1.81,"v":10},{"t":1.816,"v":0},{"t":1.822,"v":10},{"t":1.828,"v":0},{"t":1.834,"v":10},{"t":1.84,"v":0},{"t":1.846,"v":10},{"t":1.852,"v":0},{"t":1.858,"v":10},{"t":1.864,"v":0},{"t":1.87,"v":10},{"t":1.876,"v":0},{"t":1.882,"v":10},{"t":1.888,"v":0},{"t":1.894,"v":10},{"t":2.14,"v":0},{"t":2.15,"v":10},{"t":2.156,"v":0},{"t":2.162,"v":10},{"t":2.168,"v":0},{"t":2.174,"v":10},{"t":2.18,"v":0},{"t":2.186,"v":10},{"t":2.192,"v":0},{"t":2.2,"v":10},{"t":2.206,"v":0},{"t":2.216,"v":10},{"t":2.222,"v":0},{"t":2.24,"v":10},{"t":2.245,"v":0},{"t":2.6,"v":10},{"t":2.606,"v":0},{"t":2.612,"v":10},{"t":2.618,"v":0},{"t":2.624,"v":10},{"t":2.63,"v":0},{"t":2.636,"v":10},{"t":2.642,"v":0},{"t":2.648,"v":10},{"t":2.654,"v":0},{"t":2.66,"v":10},{"t":2.666,"v":0},{"t":2.672,"v":10},{"t":2.678,"v":0},{"t":2.684,"v":10},{"t":2.965,"v":0},{"t":2.975,"v":10},{"t":2.981,"v":0},{"t":2.987,"v":10},{"t":2.993,"v":0},{"t":2.999,"v":10},{"t":3.005,"v":0},{"t":3.011,"v":10},{"t":3.017,"v":0},{"t":3.023,"v":10},{"t":3.029,"v":0},{"t":3.035,"v":10},{"t":3.041,"v":0},{"t":3.05,"v":10},{"t":3.056,"v":0},{"t":3.22,"v":10},{"t":3.225,"v":0},{"t":3.25,"v":10},{"t":3.255,"v":0},{"t":3.28,"v":10},{"t":3.285,"v":0},{"t":3.3,"v":10},{"t":3.305,"v":0},{"t":3.46,"v":10},{"t":3.466,"v":0},{"t":3.472,"v":10},{"t":3.478,"v":0},{"t":3.484,"v":10},{"t":3.49,"v":0},{"t":3.496,"v":10},{"t":3.502,"v":0},{"t":3.508,"v":10},{"t":3.514,"v":0},{"t":3.52,"v":10},{"t":3.526,"v":0},{"t":3.532,"v":10},{"t":3.538,"v":0},{"t":3.544,"v":10},{"t":3.55,"v":0},{"t":3.556,"v":10},{"t":3.562,"v":0},{"t":3.568,"v":10},{"t":3.574,"v":0},{"t":3.58,"v":10},{"t":3.72,"v":0},{"t":3.73,"v":10},{"t":3.736,"v":0},{"t":3.742,"v":10},{"t":3.748,"v":0},{"t":3.754,"v":10},{"t":3.76,"v":0},{"t":3.97,"v":10},{"t":3.976,"v":0},{"t":3.99,"v":10},{"t":3.996,"v":0},{"t":4,"v":10},{"t":4.006,"v":0},{"t":4.02,"v":10},{"t":4.026,"v":0},{"t":4.04,"v":10},{"t":4.046,"v":0},{"t":4.2,"v":10},{"t":4.206,"v":0},{"t":4.212,"v":10},{"t":4.218,"v":0},{"t":4.224,"v":10},{"t":4.23,"v":0},{"t":4.236,"v":10},{"t":4.242,"v":0},{"t":4.248,"v":10},{"t":4.254,"v":0},{"t":4.26,"v":10},{"t":4.266,"v":0},{"t":4.272,"v":10},{"t":4.278,"v":0},{"t":4.284,"v":10},{"t":4.29,"v":0},{"t":4.296,"v":10},{"t":4.302,"v":0},{"t":4.308,"v":10},{"t":4.314,"v":0},{"t":4.32,"v":10},{"t":4.57,"v":10}],
"z":[
{"t":0,"v":10},{"t":0.15,"v":0},{"t":0.158,"v":10},{"t":0.695,"v":0},{"t":0.94,"v":10},{"t":0.946,"v":0},{"t":0.96,"v":10},{"t":0.966,"v":0},{"t":0.98,"v":10},{"t":0.986,"v":0},{"t":1,"v":10},{"t":1.006,"v":0},{"t":1.02,"v":10},{"t":1.026,"v":0},{"t":1.04,"v":10},{"t":1.046,"v":0},{"t":1.065,"v":10},{"t":1.13,"v":0},{"t":1.136,"v":10},{"t":1.16,"v":0},{"t":1.166,"v":10},{"t":1.21,"v":0},{"t":1.216,"v":10},{"t":1.245,"v":0},{"t":1.56,"v":10},{"t":1.566,"v":0},{"t":1.6,"v":10},{"t":1.62,"v":0},{"t":1.785,"v":10},{"t":1.79,"v":0},{"t":1.8,"v":10},{"t":1.806,"v":0},{"t":1.83,"v":10},{"t":1.836,"v":0},{"t":1.86,"v":10},{"t":1.866,"v":0},{"t":1.89,"v":10},{"t":1.896,"v":0},{"t":1.91,"v":10},{"t":1.916,"v":0},{"t":1.925,"v":10},{"t":1.931,"v":0},{"t":1.94,"v":10},{"t":1.946,"v":0},{"t":1.955,"v":10},{"t":1.961,"v":0},{"t":1.97,"v":10},{"t":2.145,"v":0},{"t":2.275,"v":10},{"t":2.285,"v":0},{"t":2.36,"v":10},{"t":2.366,"v":0},{"t":2.372,"v":10},{"t":2.378,"v":0},{"t":2.384,"v":10},{"t":2.39,"v":0},{"t":2.4,"v":10},{"t":2.406,"v":0},{"t":2.412,"v":10},{"t":2.418,"v":0},{"t":2.43,"v":10},{"t":2.436,"v":0},{"t":2.45,"v":10},{"t":2.456,"v":0},{"t":2.47,"v":10},{"t":2.476,"v":0},{"t":2.52,"v":10},{"t":2.526,"v":0},{"t":2.54,"v":10},{"t":2.546,"v":0},{"t":2.68,"v":10},{"t":2.686,"v":0},{"t":2.692,"v":10},{"t":2.698,"v":0},{"t":2.704,"v":10},{"t":2.71,"v":0},{"t":2.716,"v":10},{"t":2.722,"v":0},{"t":2.73,"v":10},{"t":2.736,"v":0},{"t":2.742,"v":10},{"t":2.748,"v":0},{"t":2.76,"v":10},{"t":2.766,"v":0},{"t":2.78,"v":10},{"t":2.96,"v":0},{"t":3.075,"v":10},{"t":3.13,"v":0},{"t":3.135,"v":10},{"t":3.14,"v":0},{"t":3.145,"v":10},{"t":3.17,"v":0},{"t":3.25,"v":10},{"t":3.4,"v":0},{"t":3.46,"v":10},{"t":3.466,"v":0},{"t":3.58,"v":10},{"t":3.59,"v":0},{"t":3.61,"v":10},{"t":3.745,"v":0},{"t":3.78,"v":10},{"t":3.786,"v":0},{"t":3.792,"v":10},{"t":3.798,"v":0},{"t":3.804,"v":10},{"t":3.81,"v":0},{"t":3.816,"v":10},{"t":3.822,"v":0},{"t":3.828,"v":10},{"t":3.834,"v":0},{"t":3.84,"v":10},{"t":3.846,"v":0},{"t":3.852,"v":10},{"t":3.858,"v":0},{"t":3.864,"v":10},{"t":3.87,"v":0},{"t":3.876,"v":10},{"t":3.882,"v":0},{"t":3.888,"v":10},{"t":3.894,"v":0},{"t":4.02,"v":10},{"t":4.026,"v":0},{"t":4.032,"v":10},{"t":4.038,"v":0},{"t":4.05,"v":10},{"t":4.056,"v":0},{"t":4.065,"v":10},{"t":4.075,"v":0},{"t":4.32,"v":10},{"t":4.326,"v":0},{"t":4.35,"v":10},{"t":4.485,"v":0},{"t":4.492,"v":10},{"t":4.57,"v":10}],
"d":[
{"t":0,"v":-1},{"t":0.15,"v":1},{"t":0.157,"v":-1},{"t":0.475,"v":1},{"t":1.02,"v":-1},{"t":1.026,"v":1},{"t":1.032,"v":-1},{"t":1.038,"v":1},{"t":1.044,"v":-1},{"t":1.05,"v":1},{"t":1.056,"v":-1},{"t":1.062,"v":1},{"t":1.068,"v":-1},{"t":1.074,"v":1},{"t":1.08,"v":-1},{"t":1.086,"v":1},{"t":1.092,"v":-1},{"t":1.098,"v":1},{"t":1.104,"v":-1},{"t":1.245,"v":1},{"t":1.78,"v":-1},{"t":1.79,"v":1},{"t":1.795,"v":-1},{"t":1.8,"v":1},{"t":1.91,"v":-1},{"t":1.916,"v":1},{"t":1.922,"v":-1},{"t":1.928,"v":1},{"t":1.934,"v":-1},{"t":1.94,"v":1},{"t":1.946,"v":-1},{"t":1.952,"v":1},{"t":1.958,"v":-1},{"t":1.964,"v":1},{"t":1.97,"v":-1},{"t":1.976,"v":1},{"t":1.982,"v":-1},{"t":2.14,"v":1},{"t":2.27,"v":-1},{"t":2.276,"v":1},{"t":2.68,"v":-1},{"t":2.686,"v":1},{"t":2.692,"v":-1},{"t":2.698,"v":1},{"t":2.704,"v":-1},{"t":2.71,"v":1},{"t":2.716,"v":-1},{"t":2.722,"v":1},{"t":2.728,"v":-1},{"t":2.734,"v":1},{"t":2.74,"v":-1},{"t":2.77,"v":1},{"t":2.776,"v":-1},{"t":2.782,"v":1},{"t":2.788,"v":-1},{"t":2.794,"v":1},{"t":2.8,"v":-1},{"t":2.806,"v":1},{"t":2.812,"v":-1},{"t":2.965,"v":1},{"t":3.28,"v":-1},{"t":3.285,"v":1},{"t":3.295,"v":-1},{"t":3.3,"v":1},{"t":3.45,"v":-1},{"t":3.455,"v":1},{"t":3.465,"v":-1},{"t":3.47,"v":1},{"t":3.58,"v":-1},{"t":3.585,"v":1},{"t":3.595,"v":-1},{"t":3.6,"v":1},{"t":3.605,"v":-1},{"t":3.72,"v":1},{"t":3.726,"v":-1},{"t":3.732,"v":1},{"t":3.738,"v":-1},{"t":3.744,"v":1},{"t":3.75,"v":-1},{"t":3.756,"v":1},{"t":4.03,"v":-1},{"t":4.036,"v":1},{"t":4.042,"v":-1},{"t":4.048,"v":1},{"t":4.054,"v":-1},{"t":4.06,"v":1},{"t":4.066,"v":-1},{"t":4.072,"v":1},{"t":4.31,"v":-1},{"t":4.315,"v":1},{"t":4.32,"v":-1},{"t":4.325,"v":1},{"t":4.33,"v":-1},{"t":4.335,"v":1},{"t":4.35,"v":-1},{"t":4.485,"v":1},{"t":4.492,"v":-1},{"t":4.57,"v":-1}]
},
"vconcat":[
{
 "width":700,"height":70,
 "layer":[
  {"data":{"name":"sig"},"mark":{"type":"area","color":"#0000ff","clip":true},
   "encoding":{
    "x":{"field":"t","type":"quantitative","scale":{"domain":[0,4.56],"nice":false,"zero":false},"axis":{"values":[0,0.5,1,1.5,2,2.5,3,3.5,4,4.5],"format":"~g","title":null}},
    "y":{"field":"h","type":"quantitative","scale":{"domain":[-0.3,0.3],"nice":false,"zero":false},"axis":{"values":[-0.2,0,0.2],"title":null,"labelExpr":"replace(datum.label, '\u2212', '-')"}},
    "y2":{"field":"l"}}},
  {"data":{"name":"bounds"},"mark":{"type":"rule","color":"#3a3a3a","strokeWidth":1.4,"clip":false},
   "encoding":{
    "x":{"field":"t","type":"quantitative","axis":{"orient":"top","values":[0,0.5,1,1.5,2,2.5,3,3.5,4,4.5],"labels":false,"title":null}},
    "y":{"datum":0.3,"type":"quantitative"},"y2":{"datum":-0.617}}},
  {"data":{"name":"seg"},"mark":{"type":"rule","color":"#000","strokeWidth":1,"clip":true},
   "encoding":{
    "x":{"field":"a","type":"quantitative","axis":null},"x2":{"field":"b"},
    "y":{"datum":0.21,"type":"quantitative"},
    "strokeDash":{"field":"kind","type":"nominal","scale":{"domain":["Sil","Speech"],"range":[[1.5,2],[6,3]]},"legend":null}}},
  {"data":{"name":"seg"},"mark":{"type":"point","shape":"triangle-left","filled":true,"color":"#000","size":28,"opacity":1,"clip":true},
   "encoding":{"x":{"field":"a","type":"quantitative","axis":null},"y":{"datum":0.21,"type":"quantitative"}}},
  {"data":{"name":"seg"},"mark":{"type":"point","shape":"triangle-right","filled":true,"color":"#000","size":28,"opacity":1,"clip":true},
   "encoding":{"x":{"field":"b","type":"quantitative","axis":null},"y":{"datum":0.21,"type":"quantitative"}}},
  {"data":{"name":"seg"},"mark":{"type":"rect","fill":"white","stroke":"#333","strokeWidth":1,"clip":false},
   "encoding":{"x":{"field":"bx0","type":"quantitative","axis":null},"x2":{"field":"bx1"},"y":{"datum":0.437,"type":"quantitative"},"y2":{"datum":0.309}}},
  {"data":{"name":"seg"},"mark":{"type":"text","fontSize":9,"font":"Liberation Sans","color":"#000","clip":false},
   "encoding":{"x":{"field":"c","type":"quantitative","axis":null},"y":{"datum":0.373,"type":"quantitative"},"text":{"field":"lab"}}},
  {"data":{"values":[{}]},"mark":{"type":"text","fontSize":9,"font":"Liberation Sans","color":"#000","clip":false},
   "encoding":{"x":{"datum":2.285,"type":"quantitative","axis":null},"y":{"datum":0.394,"type":"quantitative"},"text":{"value":"Signal"}}}
 ],
 "resolve":{"axis":{"x":"independent"}}
},
{
 "width":700,"height":70,
 "layer":[
  {"data":{"name":"energy"},"mark":{"type":"area","color":"#0000ff","clip":true},
   "encoding":{
    "x":{"field":"t","type":"quantitative","scale":{"domain":[0,4.56],"nice":false,"zero":false},"axis":{"values":[0,0.5,1,1.5,2,2.5,3,3.5,4,4.5],"format":"~g","title":null}},
    "y":{"field":"h","type":"quantitative","scale":{"domain":[0,4.8],"nice":false,"zero":false},"axis":{"values":[0,2,4],"title":"x 10\u207b\u2074","titleAngle":0,"titleAlign":"left","titleBaseline":"bottom","titleX":0,"titleY":-3}},
    "y2":{"field":"l"}}},
  {"data":{"values":[{}]},"mark":{"type":"rule","color":"#e0404a","strokeWidth":1},"encoding":{"y":{"datum":0.57,"type":"quantitative"}}},
  {"data":{"name":"bounds"},"mark":{"type":"rule","color":"#3a3a3a","strokeWidth":1.4,"clip":false},
   "encoding":{
    "x":{"field":"t","type":"quantitative","axis":{"orient":"top","values":[0,0.5,1,1.5,2,2.5,3,3.5,4,4.5],"labels":false,"title":null}},
    "y":{"datum":4.8,"type":"quantitative"},"y2":{"datum":-2.537}}},
  {"data":{"values":[{}]},"mark":{"type":"text","fontSize":9,"font":"Liberation Sans","color":"#000","clip":false},
   "encoding":{"x":{"datum":2.3,"type":"quantitative","axis":null},"y":{"datum":5.55,"type":"quantitative"},"text":{"value":"Energy"}}},
  {"data":{"values":[{}]},"mark":{"type":"rect","fill":"white","stroke":"#333","strokeWidth":1,"clip":false},
   "encoding":{"x":{"datum":-0.274,"type":"quantitative","axis":null},"x2":{"datum":-0.078},"y":{"datum":0.96,"type":"quantitative"},"y2":{"datum":-0.05}}},
  {"data":{"values":[{}]},"mark":{"type":"text","fontSize":9,"font":"Liberation Sans","color":"#000","clip":false},
   "encoding":{"x":{"datum":-0.176,"type":"quantitative","axis":null},"y":{"datum":0.45,"type":"quantitative"},"text":{"value":"LSES"}}}
 ],
 "resolve":{"axis":{"x":"independent"}}
},
{
 "width":700,"height":70,
 "layer":[
  {"data":{"name":"zcr"},"mark":{"type":"line","color":"#0000ee","strokeWidth":1,"clip":true},
   "encoding":{
    "x":{"field":"t","type":"quantitative","scale":{"domain":[0,4.56],"nice":false,"zero":false},"axis":{"values":[0,0.5,1,1.5,2,2.5,3,3.5,4,4.5],"format":"~g","title":null}},
    "y":{"field":"v","type":"quantitative","scale":{"domain":[0,10],"nice":false,"zero":false},"axis":{"values":[0,5,10],"title":null}}}},
  {"data":{"values":[{}]},"mark":{"type":"rule","color":"#e0404a","strokeWidth":1},"encoding":{"y":{"datum":5,"type":"quantitative"}}},
  {"data":{"name":"bounds"},"mark":{"type":"rule","color":"#3a3a3a","strokeWidth":1.4,"clip":false},
   "encoding":{
    "x":{"field":"t","type":"quantitative","axis":{"orient":"top","values":[0,0.5,1,1.5,2,2.5,3,3.5,4,4.5],"labels":false,"title":null}},
    "y":{"datum":10,"type":"quantitative"},"y2":{"datum":-5.286}}},
  {"data":{"values":[{}]},"mark":{"type":"text","fontSize":9,"font":"Liberation Sans","color":"#000","clip":false},
   "encoding":{"x":{"datum":2.29,"type":"quantitative","axis":null},"y":{"datum":11.43,"type":"quantitative"},"text":{"value":"ZCR"}}},
  {"data":{"values":[{}]},"mark":{"type":"rect","fill":"white","stroke":"#333","strokeWidth":1,"clip":false},
   "encoding":{"x":{"datum":-0.228,"type":"quantitative","axis":null},"x2":{"datum":-0.078},"y":{"datum":4.71,"type":"quantitative"},"y2":{"datum":2.57}}},
  {"data":{"values":[{}]},"mark":{"type":"text","fontSize":9,"font":"Liberation Sans","color":"#000","clip":false},
   "encoding":{"x":{"datum":-0.153,"type":"quantitative","axis":null},"y":{"datum":3.64,"type":"quantitative"},"text":{"value":"LIZ"}}}
 ],
 "resolve":{"axis":{"x":"independent"}}
},
{
 "width":700,"height":70,
 "layer":[
  {"data":{"name":"e"},"mark":{"type":"line","interpolate":"step-after","strokeWidth":1,"color":"#2e2eb0","strokeDash":[1,2],"clip":true},
   "encoding":{
    "x":{"field":"t","type":"quantitative","scale":{"domain":[0,4.56],"nice":false,"zero":false},"axis":{"values":[0,0.5,1,1.5,2,2.5,3,3.5,4,4.5],"format":"~g","title":"t(s)","titlePadding":3,"titleFontSize":10}},
    "y":{"field":"v","type":"quantitative","scale":{"domain":[-2,10.7],"nice":false,"zero":false},"axis":{"values":[0,5,10],"title":null}}}},
  {"data":{"name":"z"},"mark":{"type":"line","interpolate":"step-after","strokeWidth":1,"color":"#18c818","strokeDash":[6,3],"clip":true},
   "encoding":{"x":{"field":"t","type":"quantitative","axis":null},"y":{"field":"v","type":"quantitative"}}},
  {"data":{"name":"d"},"mark":{"type":"line","interpolate":"step-after","strokeWidth":2,"color":"#000","clip":true},
   "encoding":{"x":{"field":"t","type":"quantitative","axis":null},"y":{"field":"v","type":"quantitative"}}},
  {"data":{"values":[{}]},"mark":{"type":"rect","fill":"white","stroke":"#333","strokeWidth":1,"clip":false},
   "encoding":{"x":{"datum":4.039,"type":"quantitative","axis":null},"x2":{"datum":4.56},"y":{"datum":13.42,"type":"quantitative"},"y2":{"datum":3.44}}},
  {"data":{"values":[{}]},"mark":{"type":"rule","color":"#2e2eb0","strokeDash":[1,2],"strokeWidth":1,"clip":false},
   "encoding":{"x":{"datum":4.072,"type":"quantitative","axis":null},"x2":{"datum":4.274},"y":{"datum":11.79,"type":"quantitative"}}},
  {"data":{"values":[{}]},"mark":{"type":"rule","color":"#18c818","strokeDash":[6,3],"strokeWidth":1,"clip":false},
   "encoding":{"x":{"datum":4.072,"type":"quantitative","axis":null},"x2":{"datum":4.274},"y":{"datum":9.25,"type":"quantitative"}}},
  {"data":{"values":[{}]},"mark":{"type":"rule","color":"#000","strokeWidth":2,"clip":false},
   "encoding":{"x":{"datum":4.072,"type":"quantitative","axis":null},"x2":{"datum":4.274},"y":{"datum":6.71,"type":"quantitative"}}},
  {"data":{"name":"bounds"},"mark":{"type":"rule","color":"#3a3a3a","strokeWidth":1.4,"clip":false},
   "encoding":{
    "x":{"field":"t","type":"quantitative","axis":{"orient":"top","values":[0,0.5,1,1.5,2,2.5,3,3.5,4,4.5],"labels":false,"title":null}},
    "y":{"datum":10.7,"type":"quantitative"},"y2":{"datum":-6.536}}},
  {"data":{"values":[{}]},"mark":{"type":"text","fontSize":9.5,"font":"Liberation Sans","color":"#000","align":"left","baseline":"middle","clip":false},
   "encoding":{"x":{"datum":4.287,"type":"quantitative","axis":null},"y":{"datum":11.79,"type":"quantitative"},"text":{"value":"e"}}},
  {"data":{"values":[{}]},"mark":{"type":"text","fontSize":9.5,"font":"Liberation Sans","color":"#000","align":"left","baseline":"middle","clip":false},
   "encoding":{"x":{"datum":4.287,"type":"quantitative","axis":null},"y":{"datum":9.25,"type":"quantitative"},"text":{"value":"z"}}},
  {"data":{"values":[{}]},"mark":{"type":"text","fontSize":9,"font":"Liberation Sans","color":"#000","align":"left","baseline":"middle","clip":false},
   "encoding":{"x":{"datum":4.274,"type":"quantitative","axis":null},"y":{"datum":6.76,"type":"quantitative"},"text":{"value":"1 - speech"}}},
  {"data":{"values":[{}]},"mark":{"type":"text","fontSize":9,"font":"Liberation Sans","color":"#000","align":"left","baseline":"middle","clip":false},
   "encoding":{"x":{"datum":4.248,"type":"quantitative","axis":null},"y":{"datum":4.72,"type":"quantitative"},"text":{"value":"-1 - silence"}}}
 ],
 "resolve":{"axis":{"x":"independent"}}
}
]
}
